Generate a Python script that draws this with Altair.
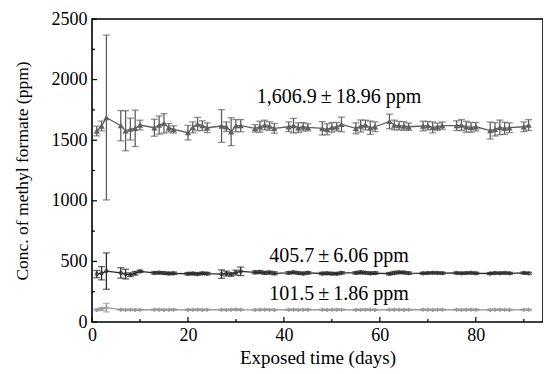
import altair as alt
import pandas as pd

days = [1, 2, 3,
        6, 7, 8, 9, 10,
        13, 14, 15, 16, 17,
        20, 21, 22, 23, 24,
        27, 28, 29, 30, 31,
        34, 35, 36, 37, 38,
        41, 42, 43, 44, 45,
        48, 49, 50, 51, 52,
        55, 56, 57, 58, 59,
        62, 63, 64, 65, 66,
        69, 70, 71, 72, 73,
        76, 77, 78, 79, 80,
        83, 84, 85, 86, 87,
        90, 91]

high_vals = [1576, 1617, 1687,
             1620, 1578, 1592, 1598, 1625,
             1603, 1625, 1639, 1603, 1589,
             1562, 1606, 1633, 1620, 1603,
             1617, 1611, 1570, 1620, 1620,
             1598, 1611, 1625, 1617, 1598,
             1611, 1620, 1603, 1611, 1606,
             1598, 1590, 1606, 1611, 1630,
             1598, 1617, 1625, 1603, 1611,
             1655, 1625, 1620, 1617, 1611,
             1617, 1620, 1606, 1611, 1620,
             1620, 1625, 1611, 1606, 1611,
             1580, 1590, 1606, 1598, 1603,
             1611, 1625]
high_err = [40, 40, 680,
            125, 165, 90, 150, 40,
            70, 75, 80, 35, 30,
            60, 45, 55, 40, 40,
            135, 40, 115, 50, 50,
            30, 45, 40, 35, 40,
            40, 60, 40, 35, 30,
            55, 45, 40, 35, 60,
            45, 50, 40, 55, 40,
            60, 40, 35, 35, 30,
            40, 35, 45, 30, 30,
            40, 45, 45, 40, 35,
            70, 55, 60, 50, 40,
            40, 45]

mid_vals = [395, 402, 420,
            405, 395, 390, 402, 418,
            405, 407, 404, 400, 402,
            398, 400, 396, 402, 399,
            395, 400, 393, 408, 418,
            410, 412, 405, 408, 402,
            405, 410, 404, 400, 406,
            400, 402, 399, 398, 405,
            405, 410, 406, 402, 404,
            398, 405, 410, 408, 403,
            402, 404, 406, 405, 403,
            405, 402, 404, 406, 402,
            400, 404, 403, 405, 402,
            405, 402]
mid_err = [30, 55, 150,
           43, 40, 15, 15, 10,
           10, 10, 10, 10, 10,
           10, 10, 10, 10, 10,
           35, 20, 15, 20, 35,
           12, 12, 12, 12, 12,
           10, 10, 10, 10, 10,
           10, 10, 10, 10, 10,
           10, 12, 10, 10, 10,
           10, 12, 10, 10, 10,
           8, 8, 8, 8, 8,
           8, 8, 8, 8, 8,
           8, 8, 8, 8, 8,
           8, 8]

low_vals = [100, 108, 118,
            102, 100, 101, 100, 101,
            101, 102, 100, 101, 102,
            100, 101, 102, 100, 101,
            101, 100, 102, 103, 101,
            100, 101, 102, 101, 100,
            101, 102, 100, 101, 102,
            101, 100, 101, 102, 101,
            100, 101, 102, 101, 100,
            101, 102, 101, 100, 101,
            102, 101, 100, 101, 102,
            101, 100, 101, 102, 101,
            100, 101, 102, 101, 100,
            101, 101]
low_err = [8, 12, 35] + [5] * 62

series_names = ["high", "mid", "low"]
series_colors = ["#5e5e5e", "#2a2a2a", "#9a9a9a"]

ann_texts = ["1,606.9\u2009\u00b1\u200918.96 ppm", "405.7\u2009\u00b1\u20096.06 ppm", "101.5\u2009\u00b1\u20091.86 ppm"]
ann_x = [51.5, 51.5, 51.5]
ann_y = [1807, 495, 182]

x_major = [0, 20, 40, 60, 80]
x_minor = [10, 30, 50, 70, 90]
y_major = [0, 500, 1000, 1500, 2000, 2500]
y_minor = [250, 750, 1250, 1750, 2250]

rows = []
for name, vals, errs in [("high", high_vals, high_err), ("mid", mid_vals, mid_err), ("low", low_vals, low_err)]:
    for d, v, e in zip(days, vals, errs):
        rows.append({"day": d, "series": name, "value": v, "lo": v - e, "hi": v + e})
df = pd.DataFrame(rows)

caps = []
for r in rows:
    caps.append({"day": r["day"], "series": r["series"], "cap": r["lo"]})
    caps.append({"day": r["day"], "series": r["series"], "cap": r["hi"]})
cdf = pd.DataFrame(caps)

W, H = 451, 303
xs = alt.Scale(domain=[0, 94], nice=False, zero=False)
ys = alt.Scale(domain=[0, 2500], nice=False)
col = alt.Color("series:N", scale=alt.Scale(domain=series_names, range=series_colors), legend=None)

xaxis = alt.Axis(values=x_major, ticks=False, domain=False, grid=False, labelPadding=4,
                 title="Exposed time (days)", titlePadding=4, titleFontSize=19,
                 labelFlush=False, format="d")
yaxis = alt.Axis(values=y_major, ticks=False, domain=False, grid=False, labelPadding=5,
                 title="Conc. of methyl formate (ppm)", titleX=-70, titleY=H / 2, titleFontSize=17.5,
                 titleBaseline="middle", titleAlign="center", labelFlush=False, format="d")

base = alt.Chart(df)
lines = base.mark_line(strokeWidth=1.3).encode(
    x=alt.X("day:Q", scale=xs, axis=xaxis),
    y=alt.Y("value:Q", scale=ys, axis=yaxis),
    color=col, detail="series:N")
bars = base.mark_rule(strokeWidth=1.3).encode(
    x="day:Q", y="lo:Q", y2="hi:Q", color=col)
capm = alt.Chart(cdf).mark_tick(orient="horizontal", size=7, thickness=1.3).encode(
    x="day:Q", y="cap:Q", color=col)

pts_high = base.transform_filter(alt.datum.series == "high").mark_point(
    shape="triangle-up", filled=True, size=38, opacity=1).encode(x="day:Q", y="value:Q", color=col)
pts_mid = base.transform_filter(alt.datum.series == "mid").mark_point(
    shape="circle", filled=False, size=12, strokeWidth=0.8, opacity=1).encode(x="day:Q", y="value:Q", color=col)
pts_low = base.transform_filter(alt.datum.series == "low").mark_point(
    shape="cross", filled=True, size=16, opacity=1).encode(x="day:Q", y="value:Q", color=col)

adf = pd.DataFrame({"t": ann_texts, "x": ann_x, "y": ann_y})
texts = alt.Chart(adf).mark_text(fontSize=20, font="Liberation Serif", color="black",
                                 align="center", baseline="alphabetic").encode(
    x="x:Q", y="y:Q", text="t:N")

xt_major = alt.Chart(pd.DataFrame({"v": x_major})).mark_rule(color="black", strokeWidth=1.2).encode(
    x="v:Q", y=alt.value(H), y2=alt.value(H - 5))
xt_minor = alt.Chart(pd.DataFrame({"v": x_minor})).mark_rule(color="black", strokeWidth=1.2).encode(
    x="v:Q", y=alt.value(H), y2=alt.value(H - 3))
yt_major = alt.Chart(pd.DataFrame({"v": y_major})).mark_rule(color="black", strokeWidth=1.2).encode(
    y="v:Q", x=alt.value(0), x2=alt.value(5))
yt_minor = alt.Chart(pd.DataFrame({"v": y_minor})).mark_rule(color="black", strokeWidth=1.2).encode(
    y="v:Q", x=alt.value(0), x2=alt.value(3))

chart = alt.layer(lines, bars, capm, pts_high, pts_mid, pts_low, texts,
                  xt_major, xt_minor, yt_major, yt_minor).properties(
    width=W, height=H,
    autosize=alt.AutoSizeParams(type="none"),
    padding={"left": 84, "top": 11, "right": 0, "bottom": 46},
).configure_view(stroke="black", strokeWidth=1.6).configure_axis(
    labelFont="Liberation Serif", titleFont="Liberation Serif",
    labelFontSize=18, labelColor="black", titleColor="black",
    titleFontWeight="normal")

chart.save("out.html", embed_options={"renderer": "svg", "actions": False})
